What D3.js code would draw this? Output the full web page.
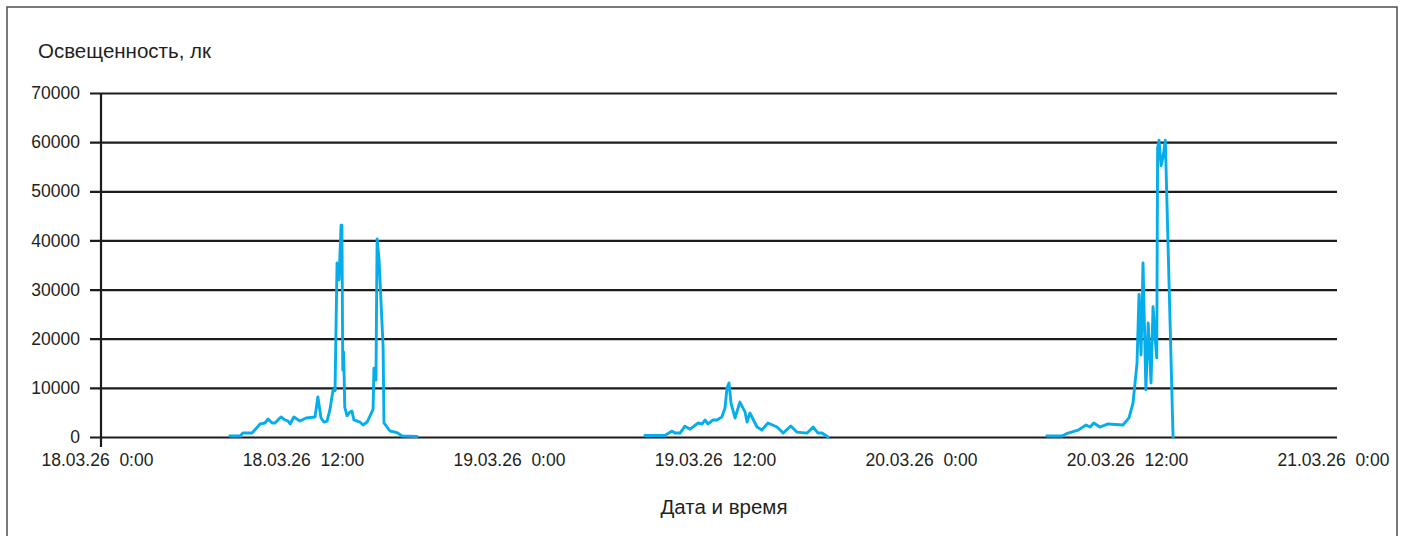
<!DOCTYPE html>
<html>
<head>
<meta charset="utf-8">
<script src="https://cdn.jsdelivr.net/npm/d3@7"></script>
<style>
  body { margin: 0; background: #fff; }
  svg text { font-family: "Liberation Sans", Arial, sans-serif; fill: #231f20; }
</style>
</head>
<body>
<svg id="chart" width="1407" height="536"></svg>
<script>
// Illuminance readings (lux), one daylight series per day
const day1Times = ["07:30","08:06","08:16","08:48","09:16","09:33","09:44","09:58","10:08","10:29","10:43","10:53","11:01","11:14","11:35","11:57","12:28","12:38","12:49","12:59","13:10","13:20","13:31","13:38","13:45","13:52","13:59","14:02","14:05","14:08","14:12","14:20","14:30","14:37","14:44","15:05","15:16","15:30","15:47","15:51","15:54","16:01","16:05","16:12","16:26","16:29","16:50","17:08","17:18","17:32","18:25"];
const day1Lux   = [200,200,800,800,2650,2850,3660,2850,2850,4070,3460,3260,2650,4070,3260,3870,4070,8140,3870,3050,3250,5500,9560,9400,35400,32000,43100,43100,13600,17300,6100,4300,5090,5300,3460,3050,2440,3050,5090,5700,14000,11600,40300,36000,18300,2850,1220,1000,800,200,100];

const day2Times = ["07:41","08:51","09:16","09:26","09:44","10:01","10:19","10:47","11:01","11:11","11:22","11:39","11:53","12:10","12:21","12:28","12:35","12:42","12:56","13:13","13:31","13:38","13:48","14:13","14:30","14:51","15:23","15:44","16:11","16:32","17:08","17:29","17:46","18:00","18:21"];
const day2Lux   = [300,300,1200,800,800,2200,1600,2850,2650,3460,2650,3460,3460,4070,5900,10000,11000,6900,3870,7100,5100,3050,4880,2030,1420,2850,2030,800,2240,1000,800,2030,800,800,0];

const day3Times = ["07:06","07:59","08:20","08:55","09:23","09:37","09:50","10:11","10:40","11:32","11:53","12:07","12:21","12:28","12:35","12:42","12:52","13:00","13:10","13:17","13:24","13:30","13:33","13:38","13:45","13:52","14:00","14:27"];
const day3Lux   = [200,200,800,1400,2440,2030,2850,2030,2650,2440,3900,6900,15000,29000,16700,35400,9600,23200,11000,26500,20400,16100,58800,60400,55200,57000,60400,0];

const dayDates = ["2026-03-18","2026-03-19","2026-03-20"];

// Axis ticks
const yTicks = [0,10000,20000,30000,40000,50000,60000,70000];
const xTickTimes = ["2026-03-18T00:00","2026-03-18T12:00","2026-03-19T00:00","2026-03-19T12:00","2026-03-20T00:00","2026-03-20T12:00","2026-03-21T00:00"];
const xTickLabels = ["18.03.26  0:00","18.03.26  12:00","19.03.26  0:00","19.03.26  12:00","20.03.26  0:00","20.03.26  12:00","21.03.26  0:00"];

const parse = d3.timeParse("%Y-%m-%dT%H:%M");
const svg = d3.select("#chart");

const plotLeft = 101, plotRight = 1337, plotTop = 93, plotBottom = 437;
const x = d3.scaleTime()
  .domain([parse(xTickTimes[0]), parse(xTickTimes[xTickTimes.length - 1])])
  .range([plotLeft, plotRight]);
const y = d3.scaleLinear().domain([0, 70000]).range([plotBottom, plotTop]);

// Outer frame
svg.append("rect")
  .attr("x", 7).attr("y", 7).attr("width", 1390).attr("height", 560)
  .attr("fill", "none").attr("stroke", "#4d4d4d").attr("stroke-width", 1.5);

// Y axis with horizontal grid lines
const yAxis = svg.append("g")
  .attr("transform", `translate(90,0)`)
  .call(d3.axisLeft(y).tickValues(yTicks).tickSize(-(plotRight - 90)).tickPadding(10)
        .tickFormat(d3.format("d")));
yAxis.select(".domain").remove();
yAxis.selectAll(".tick line").attr("stroke", "#1e1b1c").attr("stroke-width", 2.2);
yAxis.selectAll(".tick text").attr("font-size", "17.5px").attr("fill", "#231f20");

// Vertical axis line, reaching just below zero
svg.append("line")
  .attr("x1", plotLeft).attr("x2", plotLeft)
  .attr("y1", y(70000)).attr("y2", y(0) + 10)
  .attr("stroke", "#1e1b1c").attr("stroke-width", 2.2);

// X axis labels
const labelByTime = new Map(xTickTimes.map((t, i) => [+parse(t), xTickLabels[i]]));
const xAxis = svg.append("g")
  .attr("transform", `translate(0,${plotBottom})`)
  .call(d3.axisBottom(x).tickValues(xTickTimes.map(parse)).tickSize(0).tickPadding(16.6)
        .tickFormat(d => labelByTime.get(+d)));
xAxis.select(".domain").remove();
xAxis.selectAll(".tick text")
  .attr("font-size", "17.5px").attr("fill", "#231f20")
  .attr("dx", -4)
  .style("white-space", "pre");

// Axis titles
svg.append("text")
  .attr("x", 38).attr("y", 58)
  .attr("font-size", "20.5px")
  .text("Освещенность, лк");
svg.append("text")
  .attr("x", 724).attr("y", 514)
  .attr("text-anchor", "middle")
  .attr("font-size", "20.5px")
  .text("Дата и время");

// Illuminance lines
const series = [
  [day1Times, day1Lux],
  [day2Times, day2Lux],
  [day3Times, day3Lux]
].map(([times, lux], i) => times.map((t, j) => ({ t: parse(`${dayDates[i]}T${t}`), v: lux[j] })));

const line = d3.line().x(d => x(d.t)).y(d => y(d.v));
svg.append("g").selectAll("path")
  .data(series)
  .join("path")
  .attr("d", line)
  .attr("fill", "none")
  .attr("stroke", "#05aeeb")
  .attr("stroke-width", 2.9)
  .attr("stroke-linejoin", "round")
  .attr("stroke-linecap", "round");
</script>
</body>
</html>
